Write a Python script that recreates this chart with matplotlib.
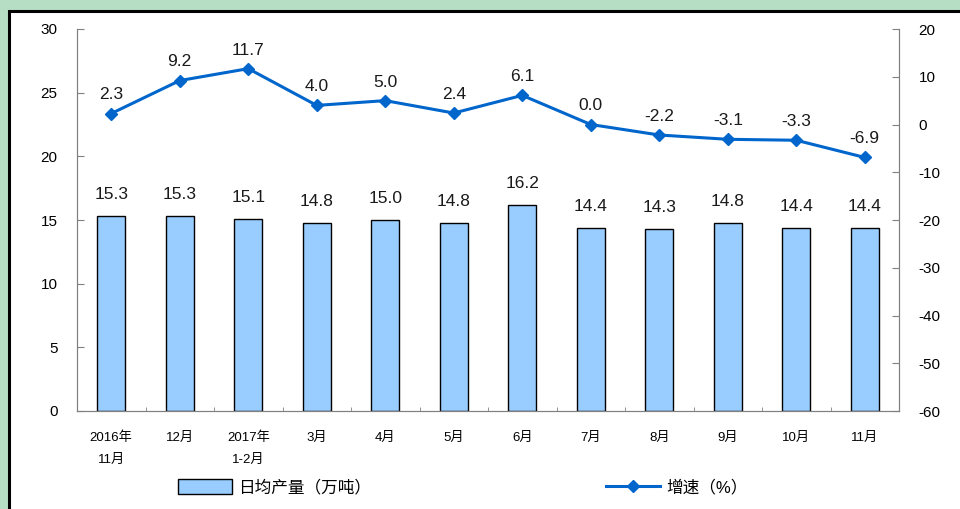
import numpy as np
import matplotlib.pyplot as plt
from matplotlib.patches import Rectangle, Patch
from matplotlib.lines import Line2D

plt.rcParams['font.family'] = ['Liberation Sans', 'Noto Sans CJK SC', 'DejaVu Sans']
plt.rcParams['axes.unicode_minus'] = False

months = ["2016年\n11月", "12月", "2017年\n1-2月", "3月", "4月", "5月",
          "6月", "7月", "8月", "9月", "10月", "11月"]
output = [15.3, 15.3, 15.1, 14.8, 15.0, 14.8, 16.2, 14.4, 14.3, 14.8, 14.4, 14.4]
growth = [2.3, 9.2, 11.7, 4.0, 5.0, 2.4, 6.1, 0.0, -2.2, -3.1, -3.3, -6.9]

bar_color = '#99ccff'
line_color = '#0066cc'
axis_gray = '#808080'

fig = plt.figure(figsize=(9.6, 5.09), dpi=100)
fig.patch.set_facecolor('#b6dec4')
# white panel with black frame, behind the axes
frame = Rectangle((9 / 960, -0.1), 1.2, 1.1 - 11 / 509,
                  transform=fig.transFigure, facecolor='white',
                  edgecolor='black', linewidth=2.2, zorder=-10)
fig.add_artist(frame)

ax = fig.add_axes([77 / 960, 1 - 411 / 509, 822 / 960, 382 / 509])
ax.set_facecolor('none')
x = np.arange(len(months))
ax.bar(x, output, width=0.41, color=bar_color, edgecolor='black', linewidth=1.0, zorder=2)
for xi, v in zip(x, output):
    ax.annotate(f"{v:.1f}", (xi, v), xytext=(0, 10), textcoords='offset points',
                ha='center', va='bottom', fontsize=12.5, color='#1a1a1a')

ax.set_xlim(-0.5, len(months) - 0.5)
ax.set_ylim(0, 30)
ax.set_yticks(range(0, 31, 5))
ax.set_xticks(x)
ax.set_xticklabels(months, fontsize=9.5, linespacing=2.0)
ax.set_xticks(np.arange(-0.5, len(months), 1), minor=True)
ax.tick_params(axis='x', which='major', length=0, pad=15)
ax.tick_params(axis='x', which='minor', direction='in', length=3, color=axis_gray)
ax.tick_params(axis='y', direction='in', length=5, color=axis_gray, labelsize=11, pad=14)
for s in ['left', 'right', 'bottom']:
    ax.spines[s].set_color(axis_gray)
ax.spines['top'].set_visible(False)

ax2 = ax.twinx()
ax2.plot(x, growth, color=line_color, linewidth=2.2, marker='D', markersize=6, zorder=3)
for xi, v in zip(x, growth):
    ax2.annotate(f"{v:.1f}", (xi, v), xytext=(0, 8), textcoords='offset points',
                 ha='center', va='bottom', fontsize=12.5, color='#1a1a1a')
ax2.set_ylim(-60, 20)
ax2.set_yticks(range(-60, 21, 10))
ax2.tick_params(axis='y', direction='in', length=5, color=axis_gray, labelsize=11, pad=14)
for s in ['left', 'right', 'bottom']:
    ax2.spines[s].set_color(axis_gray)
ax2.spines['top'].set_visible(False)

bar_handle = Patch(facecolor=bar_color, edgecolor='black', linewidth=1.0)
line_handle = Line2D([], [], color=line_color, linewidth=2.2, marker='D', markersize=6)
fig.legend([bar_handle], ["日均产量（万吨）"], loc='center', bbox_to_anchor=(275 / 960, 1 - 487 / 509),
           frameon=False, fontsize=12, handlelength=3.2, handleheight=1.0, handletextpad=0.4)
fig.legend([line_handle], ["增速（%）"], loc='center', bbox_to_anchor=(677 / 960, 1 - 487 / 509),
           frameon=False, fontsize=12, handlelength=3.2, handletextpad=0.4)

fig.savefig('out.png', dpi=100, facecolor=fig.get_facecolor())
